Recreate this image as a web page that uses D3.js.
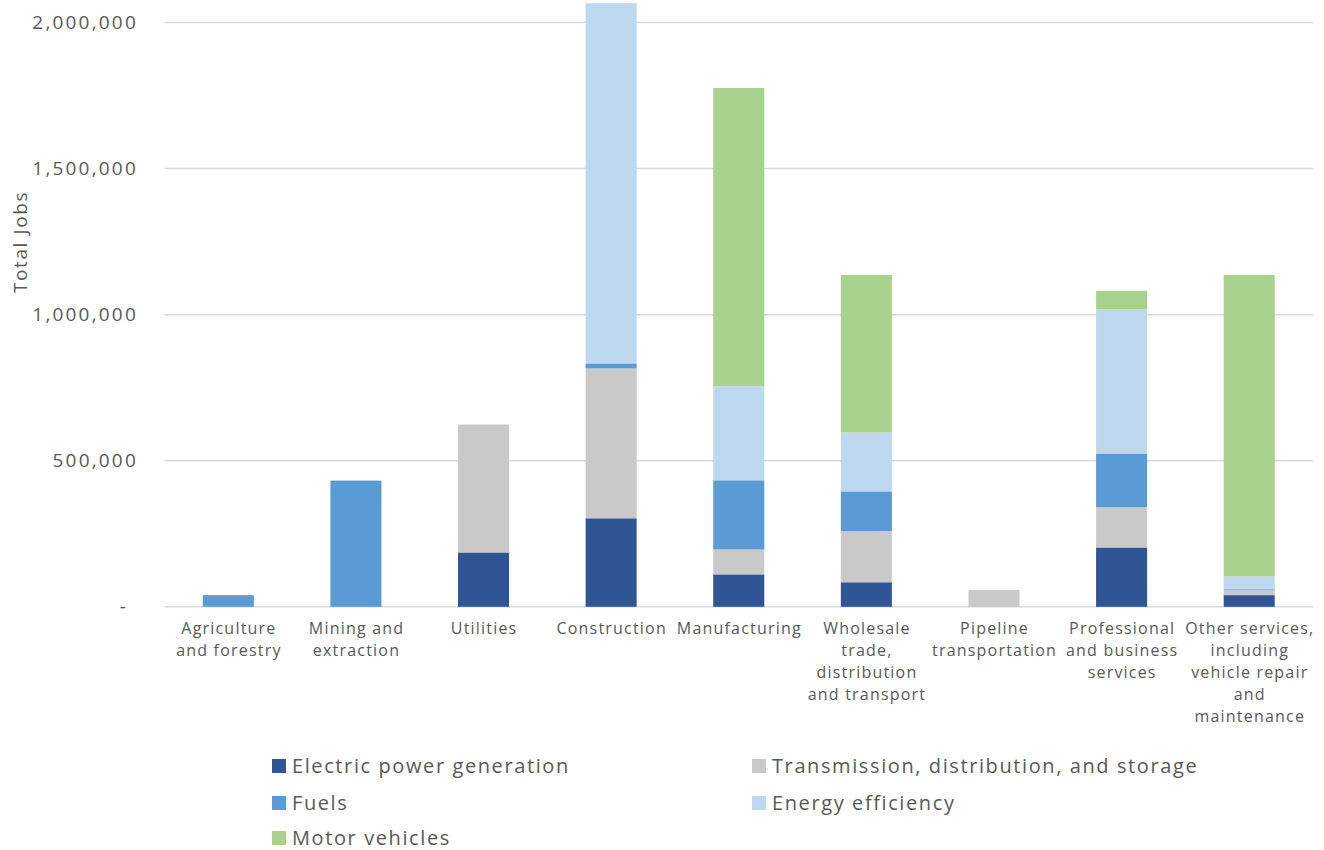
<!DOCTYPE html>
<html><head><meta charset="utf-8">
<script src="https://cdn.jsdelivr.net/npm/d3@7"></script>
<style>body{margin:0;background:#fff}svg{display:block;font-family:"Open Sans",sans-serif}</style>
</head><body><svg id="c" width="1324" height="850"></svg>
<script>
const categories = ["Agriculture\nand forestry","Mining and\nextraction","Utilities","Construction","Manufacturing","Wholesale\ntrade,\ndistribution\nand transport","Pipeline\ntransportation","Professional\nand business\nservices","Other services,\nincluding\nvehicle repair\nand\nmaintenance"];
const seriesNames = ["Electric power generation","Transmission, distribution, and storage","Fuels","Energy efficiency","Motor vehicles"];
const electric     = [0, 0, 186000, 303000, 111000, 84000, 0, 203000, 40000];
const transmission = [0, 0, 438000, 513000, 85000, 175000, 58000, 138000, 17000];
const fuels        = [40000, 432000, 0, 17000, 237000, 136000, 0, 182000, 3000];
const efficiency   = [0, 0, 0, 1233000, 321000, 202000, 0, 496000, 44000];
const motor        = [0, 0, 0, 0, 1022000, 539000, 0, 63000, 1032000];
const yTicks = [0, 500000, 1000000, 1500000, 2000000];
const colors = ["#2F5597","#C9C9C9","#5B9BD5","#BDD7EE","#A9D18E"];

const svg = d3.select("#c");
const m = {left:164.5, right:1313, top:22.5, bottom:606.8};
const x = d3.scaleBand().domain(categories).range([m.left, m.right]).paddingInner(0.6).paddingOuter(0.3);
const y = d3.scaleLinear().domain([0, 2000000]).range([m.bottom, m.top]);

// gridlines
svg.append("g").selectAll("line").data(yTicks).join("line")
  .attr("x1", m.left).attr("x2", m.right)
  .attr("y1", d=>y(d)).attr("y2", d=>y(d))
  .attr("stroke", "#D9D9D9").attr("stroke-width", 1.5);

// y axis labels
const fmt = d3.format(",");
const yAxis = d3.axisLeft(y).tickValues(yTicks).tickSize(0).tickPadding(0).tickFormat(d => d===0 ? "-" : fmt(d));
const ya = svg.append("g").attr("transform", `translate(138,0)`).call(yAxis);
ya.select(".domain").remove();
ya.selectAll("text").attr("fill","#595959").style("font-size","19px").style("letter-spacing","2.2px")
  .style("font-family","'Open Sans',sans-serif")
  .attr("dx", d => d===0 ? -10 : 0);

// y title
svg.append("text").attr("transform","translate(27,242) rotate(-90)").attr("text-anchor","middle")
  .attr("fill","#595959").style("font-size","19px").style("letter-spacing","1.6px").text("Total Jobs");

// stacked data
const rows = categories.map((c,i)=>({cat:c, s0:electric[i], s1:transmission[i], s2:fuels[i], s3:efficiency[i], s4:motor[i]}));
const stack = d3.stack().keys(["s0","s1","s2","s3","s4"])(rows);
svg.append("g").selectAll("g").data(stack).join("g").attr("fill",(d,i)=>colors[i])
  .selectAll("rect").data(d=>d).join("rect")
  .attr("x", d=>x(d.data.cat)).attr("width", x.bandwidth())
  .attr("y", d=>y(d[1])).attr("height", d=>Math.max(0, y(d[0])-y(d[1])));

// x labels
const xl = svg.append("g");
categories.forEach(c=>{
  const lines = c.split("\n");
  const t = xl.append("text").attr("text-anchor","middle").attr("fill","#595959")
    .style("font-size","16px").style("letter-spacing","1.2px");
  lines.forEach((ln,k)=>{
    t.append("tspan").attr("x", x(c)+x.bandwidth()/2 + 0.6).attr("y", 634 + k*22).text(ln);
  });
});

// legend
const legPos = [[272,766],[752,766],[272,803],[752,803],[272,838]];
const lg = svg.append("g");
seriesNames.forEach((n,i)=>{
  const [lx,ly] = legPos[i];
  lg.append("rect").attr("x",lx).attr("y",ly-7).attr("width",14).attr("height",14).attr("fill",colors[i]);
  lg.append("text").attr("x",lx+20).attr("y",ly+7).attr("fill","#595959")
    .style("font-size","20px").style("letter-spacing","1.6px").text(n);
});
</script></body></html>
